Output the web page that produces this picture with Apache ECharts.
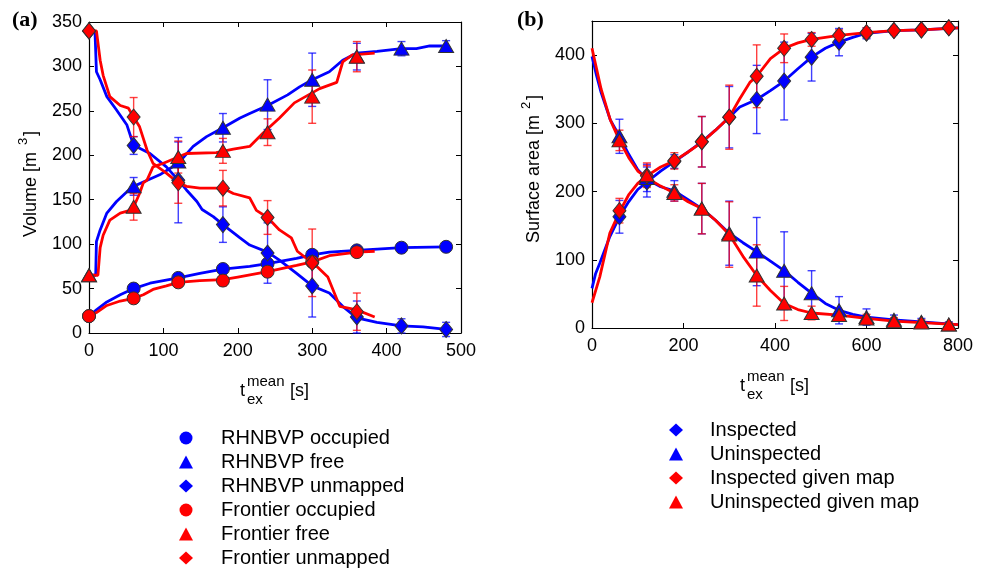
<!DOCTYPE html>
<html>
<head>
<meta charset="utf-8">
<title>Volume and surface area over time</title>
<script src="https://cdn.jsdelivr.net/npm/echarts@6.0.0/dist/echarts.min.js"></script>
<style>body{margin:0;background:#fff}</style>
</head>
<body>
<div id="main" style="width:984px;height:570px"></div>
<script>
// ---- panel (a): volume, curves as [t, value]
var aOccBlueLine = [[0,19],[10,26],[24,35],[42,43],[60,50],[82,56],[120,62],[149,67],[180,72],[216,75],[240,78],[279,84],[300,88],[323,91],[360,93],[420,96],[480,97]];
var aOccRedLine = [[0,19],[10,23],[24,31],[42,36],[60,39],[73,43],[86,49],[104,53],[120,57],[149,59],[180,60],[200,63],[240,69],[279,76],[300,80],[323,87],[360,91],[384,92]];
var aFreeBlueLine = [[0,65],[9,65],[10,103],[15,116],[24,135],[37,148],[51,159],[60,165],[73,170],[95,178],[120,191],[140,210],[158,221],[180,231],[203,242],[216,247],[240,256],[267,268],[283,277],[300,285],[323,294],[341,307],[360,315],[387,317],[420,320],[440,320],[458,323],[480,323]];
var aFreeRedLine = [[0,65],[12,65],[15,96],[19,110],[28,127],[42,135],[55,138],[60,142],[68,157],[73,169],[78,172],[86,187],[100,191],[120,198],[131,202],[171,203],[194,207],[216,210],[234,225],[256,242],[276,259],[310,275],[333,282],[341,305],[354,313],[384,315]];
var aUnmBlueLine = [[0,340],[8,340],[10,294],[15,285],[24,266],[37,251],[51,234],[60,211],[68,208],[82,202],[104,187],[120,172],[131,161],[145,148],[152,139],[167,131],[180,122],[203,107],[216,99],[240,91],[256,82],[279,67],[300,53],[323,45],[341,30],[360,17],[387,12],[420,8],[449,7],[480,4]];
var aUnmRedLine = [[0,340],[10,340],[15,307],[19,290],[28,266],[42,256],[53,253],[60,243],[68,232],[78,206],[86,191],[104,180],[120,169],[131,165],[149,163],[180,163],[194,157],[216,152],[225,138],[240,130],[256,116],[272,107],[280,92],[306,75],[321,63],[337,30],[360,26],[384,18]];

// markers and error bars (a)
var tABlue = [0,60,120,180,240,300,360,420,480];
var tARed = [0,60,120,180,240,300,360];
var occBlue = [19,50,62,72,78,88,93,96,97];
var occBlueErr = [0,3,3,3,4,3,2,2,2];
var freeBlue = [65,165,193,231,257,285,311,320,323];
var freeBlueErr = [0,10,22,16,28,30,15,8,6];
var unmBlue = [340,211,172,122,90,53,18,8,4];
var unmBlueErr = [0,10,48,20,34,35,18,8,8];
var occRed = [19,39,57,59,69,80,91];
var occRedErr = [0,4,5,6,5,5,3];
var freeRed = [65,142,198,205,226,266,311];
var freeRedErr = [0,15,18,14,15,30,17];
var unmRed = [340,243,169,163,130,79,24];
var unmRedErr = [0,22,23,20,19,38,21];

// ---- panel (b): surface area
var bInspBlueLine = [[0,58],[8,80],[17,95],[39,134],[60,163],[80,185],[100,203],[120,214],[150,230],[180,244],[210,258],[240,273],[270,290],[300,309],[323,324],[360,335],[390,348],[420,362],[450,380],[480,397],[510,410],[540,419],[570,426],[600,432],[660,436],[720,437],[800,440]];
var bInspRedLine = [[0,37],[17,75],[39,139],[60,170],[80,195],[100,212],[120,223],[150,236],[180,245],[210,258],[240,272],[270,290],[300,309],[323,336],[345,360],[360,369],[390,395],[420,410],[450,418],[480,423],[540,429],[600,433],[660,436],[720,437],[800,440]];
var bUninBlueLine = [[0,398],[10,370],[20,345],[40,305],[60,281],[80,255],[100,232],[120,218],[150,207],[180,201],[210,188],[240,175],[270,158],[300,139],[330,125],[360,112],[390,98],[420,84],[450,67],[480,51],[510,36],[540,26],[570,20],[600,16],[660,12],[720,9],[800,5]];
var bUninRedLine = [[0,410],[10,380],[20,350],[40,305],[60,275],[80,250],[100,230],[120,220],[150,208],[180,198],[210,185],[240,175],[270,158],[300,137],[330,105],[360,77],[390,55],[420,36],[450,27],[480,22],[540,19],[600,14],[660,10],[720,8],[800,5]];

var tB = [60,120,180,240,300,360,420,480,540,600,660,720,780];
var inspBlue = [163,214,244,273,309,335,362,397,419,432,436,437,440];
var inspBlueErr = [24,22,10,37,45,50,57,35,20,8,6,5,4];
var uninBlue = [281,220,201,175,139,112,84,51,26,16,12,9,5];
var uninBlueErr = [25,20,15,37,47,50,57,33,20,12,7,5,4];
var inspRed = [172,223,245,273,309,369,410,423,429,433,436,437,440];
var inspRedErr = [18,15,12,37,47,46,21,10,8,7,5,4,3];
var uninRed = [275,224,198,175,137,77,36,22,19,14,10,8,5];
var uninRedErr = [15,18,12,37,48,45,25,10,8,6,5,4,3];

var legendA = ['RHNBVP occupied','RHNBVP free','RHNBVP unmapped','Frontier occupied','Frontier free','Frontier unmapped'];
var legendB = ['Inspected','Uninspected','Inspected given map','Uninspected given map'];

var BLUE = '#0000ff', RED = '#ff0000';
var FONT = 'Liberation Sans, Arial, sans-serif';

var myChart = echarts.init(document.getElementById('main'));

function lineSeries(data, color, xi, yi) {
    return {
        type: 'line', xAxisIndex: xi, yAxisIndex: yi, data: data,
        symbol: 'none', showSymbol: false, silent: true, z: 2,
        lineStyle: {color: color, width: 2.8}, itemStyle: {color: color}
    };
}

function markSeries(name, t, v, color, symbol, size, xi, yi) {
    return {
        name: name, type: 'scatter', xAxisIndex: xi, yAxisIndex: yi,
        data: t.map(function (x, i) { return [x, v[i]]; }),
        symbol: symbol, symbolSize: size, z: 4,
        itemStyle: {color: color, borderColor: '#333', borderWidth: 1, opacity: 1}
    };
}

function errItem(params, api) {
    var top = api.coord([api.value(0), api.value(2)]);
    var bot = api.coord([api.value(0), api.value(1)]);
    var c = api.visual('color');
    var st = {stroke: c, lineWidth: 1.4};
    var w = 4;
    return {
        type: 'group',
        children: [
            {type: 'line', shape: {x1: top[0], y1: top[1], x2: bot[0], y2: bot[1]}, style: st},
            {type: 'line', shape: {x1: top[0] - w, y1: top[1], x2: top[0] + w, y2: top[1]}, style: st},
            {type: 'line', shape: {x1: bot[0] - w, y1: bot[1], x2: bot[0] + w, y2: bot[1]}, style: st}
        ]
    };
}

function errSeries(t, v, e, color, xi, yi) {
    var d = [];
    t.forEach(function (x, i) {
        if (e[i] > 0) d.push([x, v[i] - e[i], v[i] + e[i]]);
    });
    return {
        type: 'custom', xAxisIndex: xi, yAxisIndex: yi, data: d, z: 3, silent: true,
        renderItem: errItem, encode: {x: 0, y: [1, 2]},
        itemStyle: {color: color}
    };
}

function xAx(grid, max, interval, pos, labels) {
    return {
        type: 'value', gridIndex: grid, min: 0, max: max, interval: interval, position: pos,
        axisLine: {show: true, onZero: false, lineStyle: {color: '#000', width: 1.2}},
        axisTick: {show: true, inside: true, length: 5, lineStyle: {color: '#000'}},
        axisLabel: {show: labels, color: '#000', fontSize: 18, fontFamily: FONT, margin: 9},
        splitLine: {show: false}
    };
}

function yAx(grid, max, interval, pos, labels) {
    return {
        type: 'value', gridIndex: grid, min: 0, max: max, interval: interval, position: pos,
        axisLine: {show: true, onZero: false, lineStyle: {color: '#000', width: 1.2}},
        axisTick: {show: true, inside: true, length: 5, lineStyle: {color: '#000'}},
        axisLabel: {show: labels, color: '#000', fontSize: 18, fontFamily: FONT, margin: 7, showMaxLabel: max % interval === 0},
        splitLine: {show: false}
    };
}

function txt(x, y, s, size, extra) {
    var o = {type: 'text', x: x, y: y, style: {text: s, fontSize: size, fontFamily: FONT, fill: '#000',
        align: 'left', verticalAlign: 'middle', textAlign: 'left', textVerticalAlign: 'middle'}};
    if (extra) for (var k in extra) o.style[k] = extra[k];
    return o;
}

function timeLabel(x, y) {
    return [txt(x, y, 't', 18), txt(x + 7, y - 9, 'mean', 15), txt(x + 7, y + 9, 'ex', 15), txt(x + 50, y, '[s]', 18)];
}

var errA = 'rgba(0,0,255,0.75)', errAr = 'rgba(255,0,0,0.75)';

var series = [
    lineSeries(aOccBlueLine, BLUE, 0, 0),
    lineSeries(aFreeBlueLine, BLUE, 0, 0),
    lineSeries(aUnmBlueLine, BLUE, 0, 0),
    lineSeries(aOccRedLine, RED, 0, 0),
    lineSeries(aFreeRedLine, RED, 0, 0),
    lineSeries(aUnmRedLine, RED, 0, 0),
    lineSeries(bInspBlueLine, BLUE, 2, 2),
    lineSeries(bUninBlueLine, BLUE, 2, 2),
    lineSeries(bInspRedLine, RED, 2, 2),
    lineSeries(bUninRedLine, RED, 2, 2),

    errSeries(tABlue, occBlue, occBlueErr, errA, 0, 0),
    errSeries(tABlue, freeBlue, freeBlueErr, errA, 0, 0),
    errSeries(tABlue, unmBlue, unmBlueErr, errA, 0, 0),
    errSeries(tARed, occRed, occRedErr, errAr, 0, 0),
    errSeries(tARed, freeRed, freeRedErr, errAr, 0, 0),
    errSeries(tARed, unmRed, unmRedErr, errAr, 0, 0),
    errSeries(tB, inspBlue, inspBlueErr, errA, 2, 2),
    errSeries(tB, uninBlue, uninBlueErr, errA, 2, 2),
    errSeries(tB, inspRed, inspRedErr, errAr, 2, 2),
    errSeries(tB, uninRed, uninRedErr, errAr, 2, 2),

    markSeries(legendA[0], tABlue, occBlue, BLUE, 'circle', 13, 0, 0),
    markSeries(legendA[1], tABlue, freeBlue, BLUE, 'triangle', [15, 13], 0, 0),
    markSeries(legendA[2], tABlue, unmBlue, BLUE, 'diamond', [13, 16], 0, 0),
    markSeries(legendA[3], tARed, occRed, RED, 'circle', 13, 0, 0),
    markSeries(legendA[4], tARed, freeRed, RED, 'triangle', [15, 13], 0, 0),
    markSeries(legendA[5], tARed, unmRed, RED, 'diamond', [13, 16], 0, 0),
    markSeries(legendB[0], tB, inspBlue, BLUE, 'diamond', [13, 16], 2, 2),
    markSeries(legendB[1], tB, uninBlue, BLUE, 'triangle', [15, 13], 2, 2),
    markSeries(legendB[2], tB, inspRed, RED, 'diamond', [13, 16], 2, 2),
    markSeries(legendB[3], tB, uninRed, RED, 'triangle', [15, 13], 2, 2)
];

function legendBox(names, left, top, pad) {
    return {
        data: names, left: left, top: top, height: 150, padding: 0,
        orient: 'vertical', itemWidth: 14, itemHeight: 13, itemGap: 4,
        itemStyle: {borderWidth: 0},
        textStyle: {fontSize: 20, color: '#000', fontFamily: FONT, padding: [0, 0, 0, pad]},
        selectedMode: false
    };
}

option = {
    animation: false,
    backgroundColor: '#fff',
    textStyle: {fontFamily: FONT},
    grid: [
        {left: 89, top: 22, width: 372, height: 311},
        {left: 592, top: 21, width: 366, height: 307}
    ],
    xAxis: [
        xAx(0, 500, 100, 'bottom', true),
        xAx(0, 500, 100, 'top', false),
        xAx(1, 800, 200, 'bottom', true),
        xAx(1, 800, 200, 'top', false)
    ],
    yAxis: [
        yAx(0, 350, 50, 'left', true),
        yAx(0, 350, 50, 'right', false),
        yAx(1, 450, 100, 'left', true),
        yAx(1, 450, 100, 'right', false)
    ],
    legend: [
        legendBox(legendA, 179, 428, 23),
        legendBox(legendB, 669, 420, 22)
    ],
    graphic: [
        txt(12, 20, '(a)', 22, {fontFamily: 'Liberation Serif, serif', fontWeight: 'bold'}),
        txt(517, 20, '(b)', 22, {fontFamily: 'Liberation Serif, serif', fontWeight: 'bold'}),
        {type: 'group', x: 31, y: 237, rotation: Math.PI / 2, children: [
            txt(0, 0, 'Volume [m', 18), txt(92, -8, '3', 13), txt(101, 0, ']', 18)
        ]},
        {type: 'group', x: 534, y: 243, rotation: Math.PI / 2, children: [
            txt(0, 0, 'Surface area [m', 18), txt(134, -8, '2', 13), txt(143, 0, ']', 18)
        ]}
    ].concat(timeLabel(240, 391), timeLabel(740, 386)),
    series: series
};

myChart.setOption(option);
</script>
</body>
</html>
